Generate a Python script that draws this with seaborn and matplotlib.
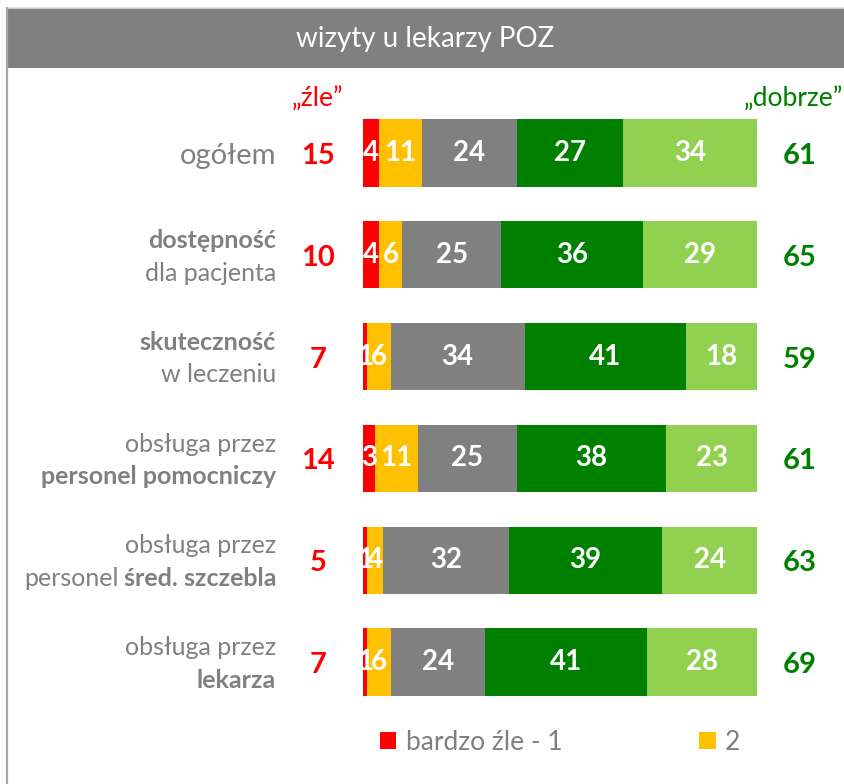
import numpy as np
import pandas as pd
import matplotlib
matplotlib.use("Agg")
import matplotlib.pyplot as plt
import seaborn as sns
from matplotlib.patches import Rectangle, Patch
from matplotlib.lines import Line2D
from matplotlib import transforms

# ---------------- data ----------------
rows = ["ogółem", "dostępność", "skuteczność", "personel pomocniczy",
        "personel śred. szczebla", "lekarza"]
bardzo_zle = [4, 4, 1, 3, 1, 1]
ocena_2 = [11, 6, 6, 11, 4, 6]
ocena_3 = [24, 25, 34, 25, 32, 24]
ocena_4 = [27, 36, 41, 38, 39, 41]
bardzo_dobrze = [34, 29, 18, 23, 24, 28]
zle_suma = [15, 10, 7, 14, 5, 7]
dobrze_suma = [61, 65, 59, 61, 63, 69]
series_names = ["bardzo źle - 1", "2", "3", "4", "bardzo dobrze - 5"]
series_colors = ["#FF0000", "#FFC000", "#808080", "#008000", "#92D050"]
title = "wizyty u lekarzy POZ"
zle_header = "„źle”"
dobrze_header = "„dobrze”"
# category label lines: list of lines, each line a list of (text, weight)
label_lines = [
    [[("ogółem", "normal")]],
    [[("dostępność", "bold")], [("dla pacjenta", "normal")]],
    [[("skuteczność", "bold")], [("w leczeniu", "normal")]],
    [[("obsługa przez", "normal")], [("personel pomocniczy", "bold")]],
    [[("obsługa przez", "normal")], [("personel", "normal"), ("śred. szczebla", "bold")]],
    [[("obsługa przez", "normal")], [("lekarza", "bold")]],
]

series = [bardzo_zle, ocena_2, ocena_3, ocena_4, bardzo_dobrze]

# ---------------- style ----------------
sns.set_style("white")
plt.rcParams["font.family"] = ["Lato", "DejaVu Sans"]

W, H = 844, 784
fig = plt.figure(figsize=(W / 100, H / 100), dpi=100)
fig.patch.set_facecolor("white")

# frame + title band
fig.add_artist(Rectangle((6 / W, 1 - 68 / H), 1 - 6 / W, 60 / H, transform=fig.transFigure,
                         facecolor="#808080", edgecolor="none", zorder=0))
fig.add_artist(Line2D([6 / W, 1], [1 - 8 / H, 1 - 8 / H], transform=fig.transFigure,
                      color="#D9D9D9", lw=1.2))
fig.add_artist(Line2D([6.5 / W, 6.5 / W], [0, 1 - 8 / H], transform=fig.transFigure,
                      color="#A6A6A6", lw=1.6))
fig.text(425 / W, 1 - 39 / H, title, color="white", fontsize=20, ha="center", va="center")

# bars axes
ax_left, ax_right = 363 / W, 757 / W
ax_top, ax_bot = 1 - 102 / H, 1 - 713 / H
ax = fig.add_axes([ax_left, ax_bot, ax_right - ax_left, ax_top - ax_bot])
ax.set_facecolor("none")

df = pd.DataFrame({"row": rows})
cum = np.cumsum(np.array(series), axis=0)
for k in range(len(series)):
    df[f"cum{k}"] = cum[k]

for k in reversed(range(len(series))):
    sns.barplot(data=df, x=f"cum{k}", y="row", orient="h", color=series_colors[k],
                saturation=1, width=0.66, ax=ax, linewidth=0)

for k in range(len(series)):
    for i, v in enumerate(series[k]):
        ax.text(cum[k][i] - v / 2, i, str(v), ha="center", va="center",
                color="white", fontweight="bold", fontsize=20)

ax.set_xlim(0, 100)
ax.set_ylim(len(rows) - 0.5, -0.5)
ax.set_xlabel("")
ax.set_ylabel("")
ax.set_xticks([])
ax.set_yticks([])
for s in ax.spines.values():
    s.set_visible(False)

# totals
trans = transforms.blended_transform_factory(fig.transFigure, ax.transData)
for i in range(len(rows)):
    fig.text(318 / W, i + 0.03, str(zle_suma[i]), transform=trans, color="#FF0000",
             fontweight="bold", fontsize=21, ha="center", va="center")
    fig.text(800 / W, i + 0.03, str(dobrze_suma[i]), transform=trans, color="#008000",
             fontweight="bold", fontsize=21, ha="center", va="center")

fig.text(318 / W, 1 - 99 / H, zle_header, color="#FF0000", fontsize=19, ha="center", va="center")
fig.text(843 / W, 1 - 99 / H, dobrze_header, color="#008000", fontsize=19, ha="right", va="center")

# category labels
renderer = fig.canvas.get_renderer()
x_right = 276 / W
gray = "#808080"
for i, lines in enumerate(label_lines):
    n = len(lines)
    for j, parts in enumerate(lines):
        if n == 1:
            yoff = 0.03
            fs = 21
        else:
            yoff = (j - (n - 1) / 2) * 0.32 + 0.02
            fs = 18
        xr = x_right
        for text, weight in reversed(parts):
            t = fig.text(xr, i + yoff, text, transform=trans, color=gray, fontsize=fs,
                         fontweight=weight, ha="right", va="center")
            bb = t.get_window_extent(renderer=renderer)
            xr -= (bb.width + 5) / W

# legend
handles = [Patch(facecolor=series_colors[0], edgecolor="none"),
           Patch(facecolor=series_colors[1], edgecolor="none")]
fig.legend(handles, series_names[:2], loc="center left",
           bbox_to_anchor=(380 / W, 1 - 742 / H), ncol=2, frameon=False,
           fontsize=19, labelcolor=gray, handlelength=0.62, handleheight=0.62,
           handletextpad=0.35, columnspacing=5.2, borderaxespad=0, borderpad=0)

fig.savefig("out.png", dpi=100, facecolor="white")
